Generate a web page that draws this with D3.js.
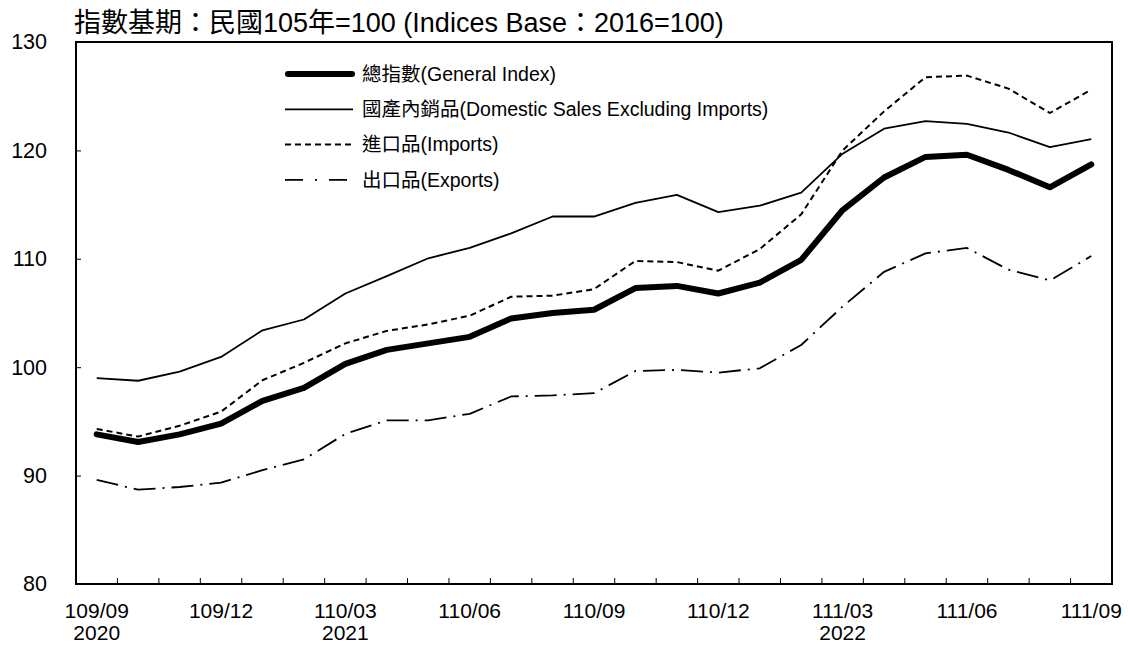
<!DOCTYPE html>
<html>
<head>
<meta charset="utf-8">
<script src="https://cdn.jsdelivr.net/npm/d3@7"></script>
<style>
  body { margin: 0; background: #fff; }
  svg { font-family: "Liberation Sans", Arial, "Noto Sans CJK TC", sans-serif; }
</style>
</head>
<body>
<svg id="chart" width="1128" height="647"></svg>
<script>
// months (ROC year / month)
const months = [
  "109/09", "109/10", "109/11", "109/12", "110/01", "110/02", "110/03",
  "110/04", "110/05", "110/06", "110/07", "110/08", "110/09", "110/10",
  "110/11", "110/12", "111/01", "111/02", "111/03", "111/04", "111/05",
  "111/06", "111/07", "111/08", "111/09"
];
const labeledMonths = ["109/09", "109/12", "110/03", "110/06", "110/09", "110/12", "111/03", "111/06", "111/09"];
const yearLabels = { "109/09": "2020", "110/03": "2021", "111/03": "2022" };
const yTicks = [80, 90, 100, 110, 120, 130];

const generalIndex = [93.8, 93.1, 93.8, 94.8, 96.9, 98.1, 100.3, 101.6, 102.2, 102.8, 104.5, 105.0, 105.3,
  107.3, 107.5, 106.8, 107.8, 109.9, 114.5, 117.5, 119.4, 119.6, 118.2, 116.6, 118.7];
const domesticSales = [99.0, 98.75, 99.6, 100.95, 103.4, 104.4, 106.8, 108.4, 110.05, 111.0, 112.35, 113.9, 113.9,
  115.15, 115.9, 114.3, 114.9, 116.1, 119.7, 122.0, 122.7, 122.45, 121.65, 120.3, 121.05];
const imports = [94.3, 93.6, 94.6, 95.9, 98.8, 100.4, 102.2, 103.35, 103.95, 104.75, 106.5, 106.6, 107.2,
  109.8, 109.7, 108.9, 110.9, 114.1, 120.0, 123.6, 126.75, 126.9, 125.7, 123.45, 125.6];
const exportsIdx = [89.6, 88.7, 88.95, 89.35, 90.5, 91.5, 93.85, 95.1, 95.1, 95.7, 97.3, 97.4, 97.6,
  99.65, 99.75, 99.5, 99.9, 102.05, 105.6, 108.8, 110.5, 111.0, 109.0, 108.0, 110.25];

const svg = d3.select("#chart");
const plotL = 76, plotR = 1112, plotT = 42, plotB = 584;

const x = d3.scaleBand().domain(months).range([plotL, plotR]);
const y = d3.scaleLinear().domain([80, 130]).range([plotB, plotT]);
const cx = m => x(m) + x.bandwidth() / 2;

// title
svg.append("text")
  .attr("x", 74)
  .attr("y", 32)
  .style("font-size", "27px")
  .text("指數基期：民國105年=100 (Indices Base：2016=100)");

// y axis labels + inward ticks
const yAxis = svg.append("g")
  .attr("transform", `translate(${plotL},0)`)
  .call(d3.axisLeft(y).tickValues(yTicks).tickSize(-5).tickPadding(29).tickFormat(d3.format("d")));
yAxis.select(".domain").remove();
yAxis.selectAll("line").attr("stroke", "#000").attr("stroke-width", 1);
yAxis.selectAll("text").style("font-size", "21.5px").attr("fill", "#000");
yAxis.attr("font-family", null);

// x ticks at month boundaries
svg.append("g")
  .selectAll("line")
  .data(months.slice(1))
  .join("line")
  .attr("x1", d => x(d)).attr("x2", d => x(d))
  .attr("y1", plotB).attr("y2", plotB - 6)
  .attr("stroke", "#000").attr("stroke-width", 1);

// x labels
svg.append("g")
  .selectAll("text")
  .data(labeledMonths)
  .join("text")
  .attr("x", d => cx(d))
  .attr("y", 618)
  .attr("text-anchor", "middle")
  .style("font-size", "21px")
  .text(d => d);

svg.append("g")
  .selectAll("text")
  .data(Object.keys(yearLabels))
  .join("text")
  .attr("x", d => cx(d))
  .attr("y", 640)
  .attr("text-anchor", "middle")
  .style("font-size", "21px")
  .text(d => yearLabels[d]);

// series
const series = [
  { name: "總指數(General Index)", values: generalIndex, width: 6, dash: null, cap: "round" },
  { name: "國產內銷品(Domestic Sales Excluding Imports)", values: domesticSales, width: 1.8, dash: null, cap: "butt" },
  { name: "進口品(Imports)", values: imports, width: 2, dash: "6,4", cap: "butt" },
  { name: "出口品(Exports)", values: exportsIdx, width: 1.8, dash: "22,7,2,7", cap: "butt" }
];

const line = d3.line()
  .x((d, i) => cx(months[i]))
  .y(d => y(d));

svg.append("g")
  .selectAll("path")
  .data(series)
  .join("path")
  .attr("d", d => line(d.values))
  .attr("fill", "none")
  .attr("stroke", "#000")
  .attr("stroke-width", d => d.width)
  .attr("stroke-dasharray", d => d.dash)
  .attr("stroke-linejoin", "round")
  .attr("stroke-linecap", d => d.cap);

// frame
svg.append("rect")
  .attr("x", plotL).attr("y", plotT)
  .attr("width", plotR - plotL).attr("height", plotB - plotT)
  .attr("fill", "none")
  .attr("stroke", "#000")
  .attr("stroke-width", 2);

// legend
const legend = svg.append("g")
  .selectAll("g")
  .data(series)
  .join("g")
  .attr("transform", (d, i) => `translate(0,${74 + i * 35.3})`);

legend.append("line")
  .attr("x1", d => d.cap === "round" ? 288 : 285)
  .attr("x2", d => d.cap === "round" ? 352 : 353)
  .attr("stroke", "#000")
  .attr("stroke-width", d => d.width)
  .attr("stroke-linecap", d => d.cap)
  .attr("stroke-dasharray", d => d.dash === "22,7,2,7" ? "18,12,2,12" : d.dash);

legend.append("text")
  .attr("x", 362)
  .attr("dy", "0.35em")
  .style("font-size", "19.5px")
  .text(d => d.name);
</script>
</body>
</html>
